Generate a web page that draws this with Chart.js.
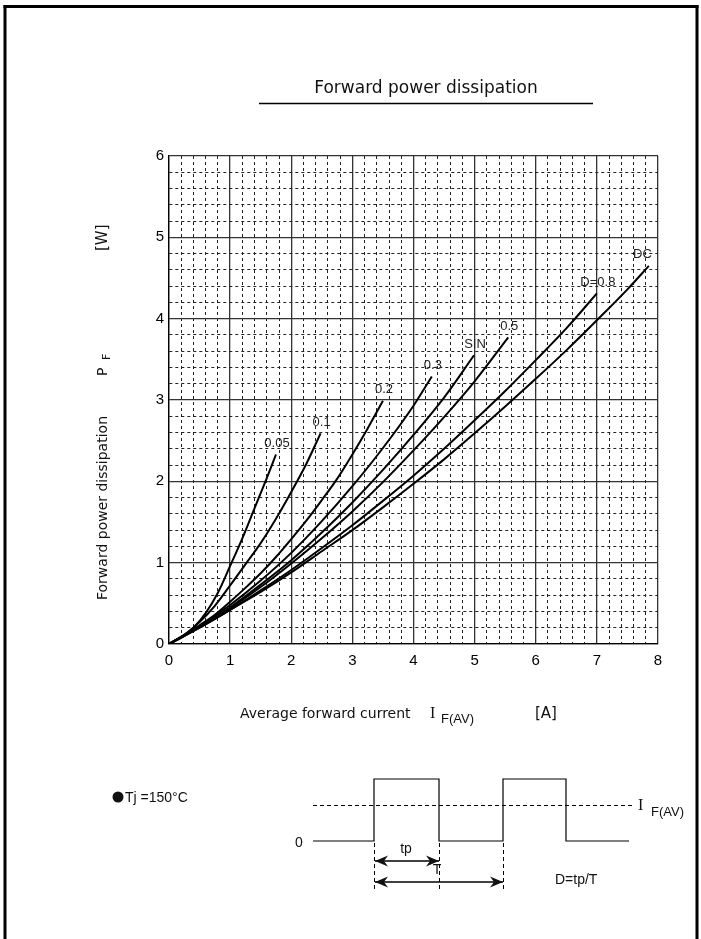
<!DOCTYPE html>
<html>
<head>
<meta charset="utf-8">
<script src="https://cdn.jsdelivr.net/npm/chart.js@4"></script>
<style>
  html, body { margin: 0; padding: 0; background: #fff; }
  #wrap { position: relative; width: 701px; height: 939px; }
</style>
</head>
<body>
<div id="wrap"><canvas id="pfChart"></canvas></div>
<script>
// curve names, in order of increasing duty
const seriesNames = ['0.05', '0.1', '0.2', '0.3', 'SIN', '0.5', 'D=0.8', 'DC'];

// average forward current [A] / forward power dissipation [W]
const current005 = [0, 0.2, 0.4, 0.6, 0.8, 1.0, 1.2, 1.4, 1.6, 1.75];
const power005   = [0, 0.09, 0.2, 0.38, 0.63, 0.96, 1.3, 1.67, 2.04, 2.33];

const current01 = [0, 0.25, 0.5, 0.75, 1.0, 1.25, 1.5, 1.75, 2.0, 2.25, 2.48];
const power01   = [0, 0.11, 0.27, 0.47, 0.72, 0.98, 1.24, 1.54, 1.87, 2.22, 2.59];

const current02 = [0, 0.25, 0.5, 0.75, 1.0, 1.25, 1.5, 1.75, 2.0, 2.25, 2.5, 2.75, 3.0, 3.25, 3.5];
const power02   = [0, 0.1, 0.23, 0.36, 0.52, 0.69, 0.87, 1.07, 1.29, 1.52, 1.77, 2.03, 2.33, 2.65, 2.99];

const current03 = [0, 0.5, 1.0, 1.5, 2.0, 2.5, 3.0, 3.5, 4.0, 4.3];
const power03   = [0, 0.22, 0.48, 0.78, 1.12, 1.51, 1.94, 2.41, 2.93, 3.29];

const currentSin = [0, 0.5, 1.0, 1.5, 2.0, 2.5, 3.0, 3.5, 4.0, 4.5, 4.99];
const powerSin   = [0, 0.21, 0.45, 0.73, 1.03, 1.37, 1.74, 2.14, 2.57, 3.03, 3.55];

const current05 = [0, 0.5, 1.0, 1.5, 2.0, 2.5, 3.0, 3.5, 4.0, 4.5, 5.0, 5.55];
const power05   = [0, 0.21, 0.44, 0.7, 0.99, 1.3, 1.63, 1.99, 2.38, 2.79, 3.23, 3.77];

const current08 = [0, 0.5, 1.0, 1.5, 2.0, 2.5, 3.0, 3.5, 4.0, 4.5, 5.0, 5.5, 6.0, 6.5, 7.0];
const power08   = [0, 0.2, 0.42, 0.66, 0.91, 1.18, 1.46, 1.76, 2.07, 2.4, 2.75, 3.11, 3.49, 3.88, 4.31];

const currentDC = [0, 0.5, 1.0, 1.5, 2.0, 2.5, 3.0, 3.5, 4.0, 4.5, 5.0, 5.5, 6.0, 6.5, 7.0, 7.5, 7.85];
const powerDC   = [0, 0.2, 0.42, 0.64, 0.88, 1.14, 1.4, 1.68, 1.97, 2.27, 2.59, 2.92, 3.26, 3.61, 3.98, 4.36, 4.65];

const currents = [current005, current01, current02, current03, currentSin, current05, current08, currentDC];
const powers = [power005, power01, power02, power03, powerSin, power05, power08, powerDC];

const xTickLabels = ['0', '1', '2', '3', '4', '5', '6', '7', '8'];
const yTickLabels = ['0', '1', '2', '3', '4', '5', '6'];

function isMajor(v) {
    return Math.abs(v - Math.round(v)) < 1e-6;
}

function buildDatasets() {
    return seriesNames.map((name, i) => ({
        label: name,
        data: currents[i].map((c, j) => ({x: c, y: powers[i][j]})),
        borderColor: '#000',
        borderWidth: 2,
        pointRadius: 0,
        fill: false,
        cubicInterpolationMode: 'monotone'
    }));
}

function arrow(ctx, x1, x2, y) {
    ctx.beginPath();
    ctx.moveTo(x1, y);
    ctx.lineTo(x2, y);
    ctx.stroke();
    [[x1, 1], [x2, -1]].forEach(([ax, dir]) => {
        ctx.beginPath();
        ctx.moveTo(ax, y);
        ctx.lineTo(ax + dir * 13, y - 5.5);
        ctx.lineTo(ax + dir * 9, y);
        ctx.lineTo(ax + dir * 13, y + 5.5);
        ctx.closePath();
        ctx.fill();
    });
}

const extras = {
    id: 'extras',
    afterDraw(chart) {
        const {ctx, scales: {x, y}} = chart;
        ctx.save();

        // page frame
        ctx.fillStyle = '#000';
        ctx.fillRect(3.5, 5, 3, 934);
        ctx.fillRect(3.5, 5, 695, 3);
        ctx.fillRect(695.5, 5, 3, 934);

        // curve labels at the end of each curve
        ctx.font = '13px "Liberation Sans", Arial, sans-serif';
        ctx.fillStyle = '#222';
        ctx.textBaseline = 'middle';
        chart.data.datasets.forEach((ds, i) => {
            const last = ds.data[ds.data.length - 1];
            const px = x.getPixelForValue(last.x);
            const py = y.getPixelForValue(last.y);
            const isLast = i === chart.data.datasets.length - 1;
            ctx.textAlign = isLast ? 'right' : 'center';
            ctx.fillText(ds.label, isLast ? px + 3 : px + 1, py - 11);
        });

        // title
        ctx.fillStyle = '#111';
        ctx.font = '17px "DejaVu Sans", sans-serif';
        ctx.textAlign = 'center';
        ctx.fillText('Forward power dissipation', 426, 89);
        ctx.strokeStyle = '#000';
        ctx.lineWidth = 1.5;
        ctx.beginPath();
        ctx.moveTo(259, 103.5);
        ctx.lineTo(593, 103.5);
        ctx.stroke();

        // x axis title
        ctx.textAlign = 'left';
        ctx.font = '14px "DejaVu Sans", sans-serif';
        ctx.fillText('Average forward current', 240, 714);
        ctx.font = '16px "Liberation Serif", serif';
        ctx.fillText('I', 430, 714);
        ctx.font = '13px "Liberation Sans", Arial, sans-serif';
        ctx.fillText('F(AV)', 441, 719);
        ctx.font = '15px "DejaVu Sans", sans-serif';
        ctx.fillText('[A]', 535, 714);

        // y axis title
        ctx.save();
        ctx.translate(103, 0);
        ctx.rotate(-Math.PI / 2);
        ctx.font = '14px "DejaVu Sans", sans-serif';
        ctx.fillText('Forward power dissipation', -600, 0);
        ctx.fillText('P', -376, 0);
        ctx.font = '11px "DejaVu Sans", sans-serif';
        ctx.fillText('F', -360, 4);
        ctx.font = '15px "DejaVu Sans", sans-serif';
        ctx.fillText('[W]', -251, 0);
        ctx.restore();

        // Tj note
        ctx.beginPath();
        ctx.arc(118, 797, 5.5, 0, Math.PI * 2);
        ctx.fill();
        ctx.font = '14px "Liberation Sans", Arial, sans-serif';
        ctx.fillText('Tj =150\u00B0C', 125, 798);

        // pulse diagram
        ctx.lineWidth = 1.2;
        ctx.beginPath();
        ctx.moveTo(313, 841);
        ctx.lineTo(374, 841);
        ctx.lineTo(374, 779);
        ctx.lineTo(439, 779);
        ctx.lineTo(439, 841);
        ctx.lineTo(503, 841);
        ctx.lineTo(503, 779);
        ctx.lineTo(566, 779);
        ctx.lineTo(566, 841);
        ctx.lineTo(629, 841);
        ctx.stroke();

        ctx.lineWidth = 1;
        ctx.setLineDash([4, 3]);
        ctx.beginPath();
        ctx.moveTo(313, 805.5);
        ctx.lineTo(632, 805.5);
        [374, 439, 503].forEach(vx => {
            ctx.moveTo(vx + 0.5, 843);
            ctx.lineTo(vx + 0.5, 892);
        });
        ctx.stroke();
        ctx.setLineDash([]);

        ctx.font = '14px "Liberation Sans", Arial, sans-serif';
        ctx.textAlign = 'center';
        ctx.fillText('0', 299, 843);
        ctx.fillText('tp', 406, 849);
        ctx.fillText('T', 437, 870);
        ctx.textAlign = 'left';
        ctx.fillText('D=tp/T', 555, 880);
        ctx.font = '16px "Liberation Serif", serif';
        ctx.fillText('I', 638, 806);
        ctx.font = '13px "Liberation Sans", Arial, sans-serif';
        ctx.fillText('F(AV)', 651, 812);

        ctx.lineWidth = 1.5;
        arrow(ctx, 375, 439, 861);
        arrow(ctx, 375, 503, 882);

        ctx.restore();
    }
};

const tickFont = {family: '"Liberation Sans", Arial, sans-serif', size: 15};

new Chart(document.getElementById('pfChart').getContext('2d'), {
    type: 'line',
    data: {datasets: buildDatasets()},
    options: {
        responsive: true,
        maintainAspectRatio: false,
        animation: false,
        events: [],
        layout: {padding: {left: 139, right: 43, top: 156, bottom: 265}},
        plugins: {legend: {display: false}, tooltip: {enabled: false}},
        scales: {
            x: {
                type: 'linear',
                min: 0,
                max: 8,
                afterFit: scale => { scale.height = 30; },
                ticks: {
                    stepSize: 0.2,
                    autoSkip: false,
                    maxRotation: 0,
                    padding: 8,
                    color: '#000',
                    font: tickFont,
                    callback: v => isMajor(v) ? xTickLabels[Math.round(v)] : ''
                },
                grid: {
                    drawTicks: false,
                    color: c => (c.tick && !isMajor(c.tick.value)) ? '#222' : '#333',
                    lineWidth: c => (c.tick && !isMajor(c.tick.value)) ? 1 : 1.3
                },
                border: {
                    color: '#000',
                    width: 1.3,
                    dash: c => (c.tick && !isMajor(c.tick.value)) ? [3, 3] : []
                }
            },
            y: {
                type: 'linear',
                min: 0,
                max: 6,
                afterFit: scale => { scale.width = 30; },
                ticks: {
                    stepSize: 0.2,
                    autoSkip: false,
                    padding: 5,
                    color: '#000',
                    font: tickFont,
                    callback: v => isMajor(v) ? yTickLabels[Math.round(v)] : ''
                },
                grid: {
                    drawTicks: false,
                    color: c => (c.tick && !isMajor(c.tick.value)) ? '#222' : '#333',
                    lineWidth: c => (c.tick && !isMajor(c.tick.value)) ? 1 : 1.3
                },
                border: {
                    color: '#000',
                    width: 1.3,
                    dash: c => (c.tick && !isMajor(c.tick.value)) ? [3, 3] : []
                }
            }
        }
    },
    plugins: [extras]
});
</script>
</body>
</html>
